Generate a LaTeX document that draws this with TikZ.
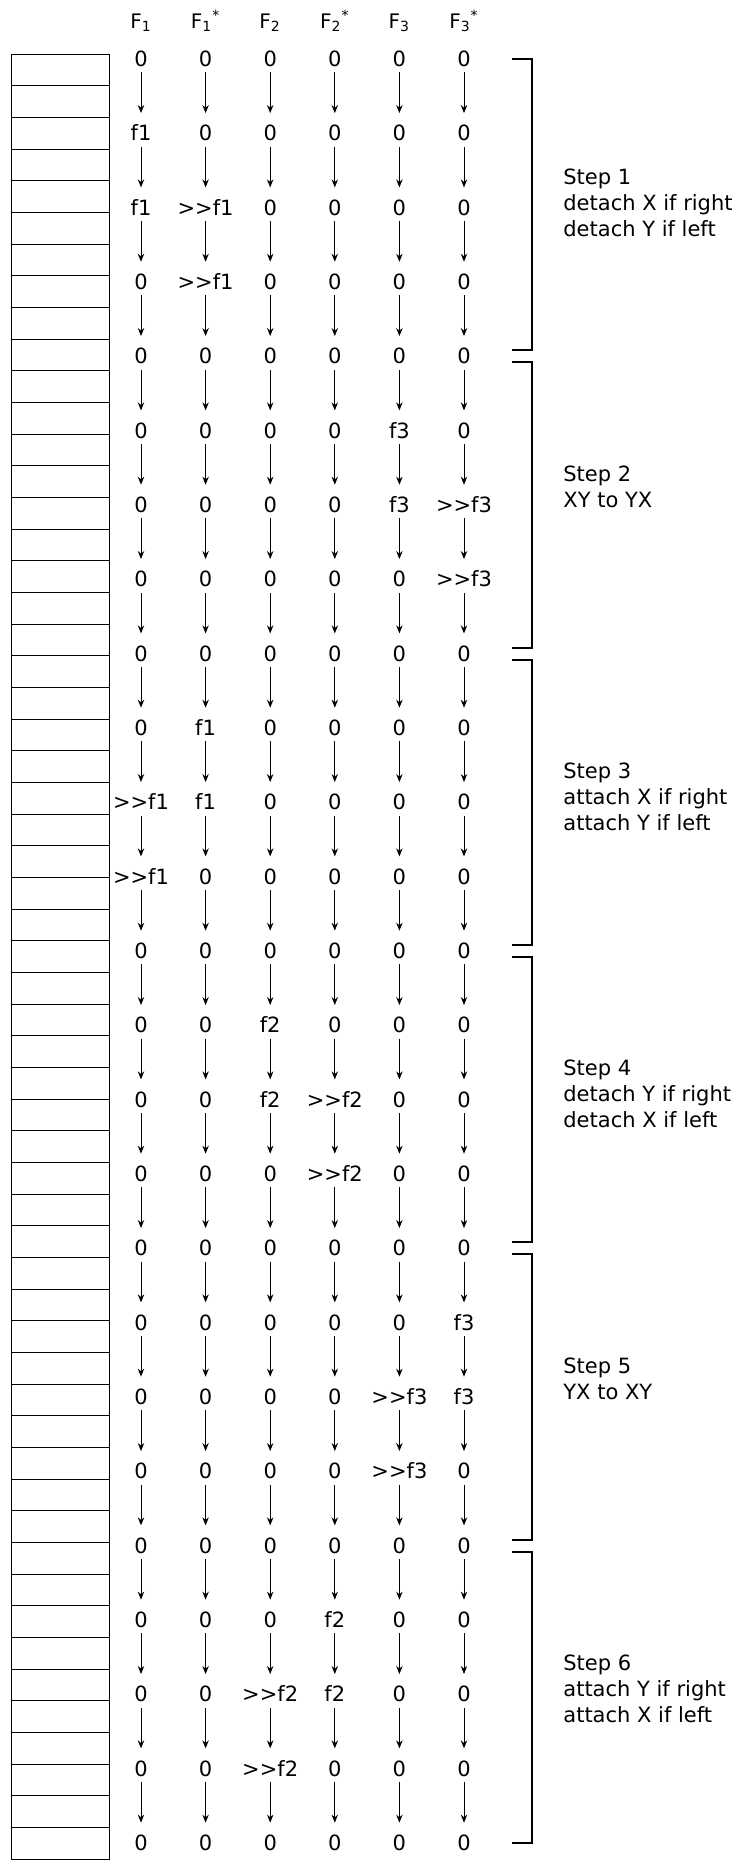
\documentclass[tikz,border=0pt]{standalone}
\usepackage{fontspec}
\setmainfont{DejaVu Sans}
\usetikzlibrary{arrows.meta}
\newcommand\mv{>\kern0pt>}
\tikzset{
  >=Stealth,
  cell/.style={inner sep=0pt,text height=7.65pt,text depth=0pt,font=\fontsize{10.5}{13}\selectfont},
  head/.style={inner sep=0pt,font=\fontsize{10}{12}\selectfont},
  flow/.style={-{Stealth[length=4pt,width=3.2pt]},line width=0.5pt,shorten <=2.7pt,shorten >=6.1pt},
  slot/.style={draw,line width=0.5pt},
  brk/.style={draw,line width=1pt},
  steplbl/.style={inner sep=0pt,align=left,font=\fontsize{10.5}{13}\selectfont},
}
\begin{document}
\begin{tikzpicture}[x=0.5pt,y=-0.5pt]
  \useasboundingbox (0,0) rectangle (738,1860);
  % slots on the left
  \foreach \i in {0,...,56}
    \draw[slot] (11,{54+\i*31.67}) rectangle ++(98,31.67);

  % column heads
  \foreach \t [count=\j] in {F\textsubscript{1},F\textsubscript{1}\textsuperscript{*},
      F\textsubscript{2},F\textsubscript{2}\textsuperscript{*},
      F\textsubscript{3},F\textsubscript{3}\textsuperscript{*}}
    \node[head,anchor=base] (h\j) at ({141+(\j-1)*64.6},28) {\t};

  % values, one line per row
  \foreach \r/\va/\vb/\vc/\vd/\ve/\vf in {
      0/0/0/0/0/0/0, 1/f1/0/0/0/0/0, 2/f1/\mv f1/0/0/0/0, 3/0/\mv f1/0/0/0/0,
      4/0/0/0/0/0/0, 5/0/0/0/0/f3/0, 6/0/0/0/0/f3/\mv f3, 7/0/0/0/0/0/\mv f3,
      8/0/0/0/0/0/0, 9/0/f1/0/0/0/0, 10/\mv f1/f1/0/0/0/0, 11/\mv f1/0/0/0/0/0,
      12/0/0/0/0/0/0, 13/0/0/f2/0/0/0, 14/0/0/f2/\mv f2/0/0, 15/0/0/0/\mv f2/0/0,
      16/0/0/0/0/0/0, 17/0/0/0/0/0/f3, 18/0/0/0/0/\mv f3/f3, 19/0/0/0/0/\mv f3/0,
      20/0/0/0/0/0/0, 21/0/0/0/f2/0/0, 22/0/0/\mv f2/f2/0/0, 23/0/0/\mv f2/0/0/0,
      24/0/0/0/0/0/0}
    \foreach \v [count=\j] in {\va,\vb,\vc,\vd,\ve,\vf}
      \node[cell] (c\r-\j) at ({141+(\j-1)*64.6},{59+\r*74.33}) {\v};

  % arrows between rows
  \foreach \r [evaluate=\r as \s using int(\r+1)] in {0,...,23}
    \foreach \j in {1,...,6}
      \draw[flow] (c\r-\j) -- (c\s-\j);

  % steps (last field: lines below the first)
  \foreach \k/\txt/\n in {0/{Step 1\\detach X if right\\detach Y if left}/2,
      1/{Step 2\\XY to YX}/1,
      2/{Step 3\\attach X if right\\attach Y if left}/2,
      3/{Step 4\\detach Y if right\\detach X if left}/2,
      4/{Step 5\\YX to XY}/1,
      5/{Step 6\\attach Y if right\\attach X if left}/2} {
    \pgfmathsetmacro\yt{59+4*\k*74.33+(\k>0)*6}
    \pgfmathsetmacro\yb{59+4*(\k+1)*74.33-(\k<5)*6}
    \draw[brk] (512,\yt) -- (532,\yt) -- (532,\yb) -- (512,\yb);
    \node[steplbl,anchor=base west] (st\k) at (563,{59+4*\k*74.33+125+\n*26}) {\txt};
  }
\end{tikzpicture}
\end{document}
